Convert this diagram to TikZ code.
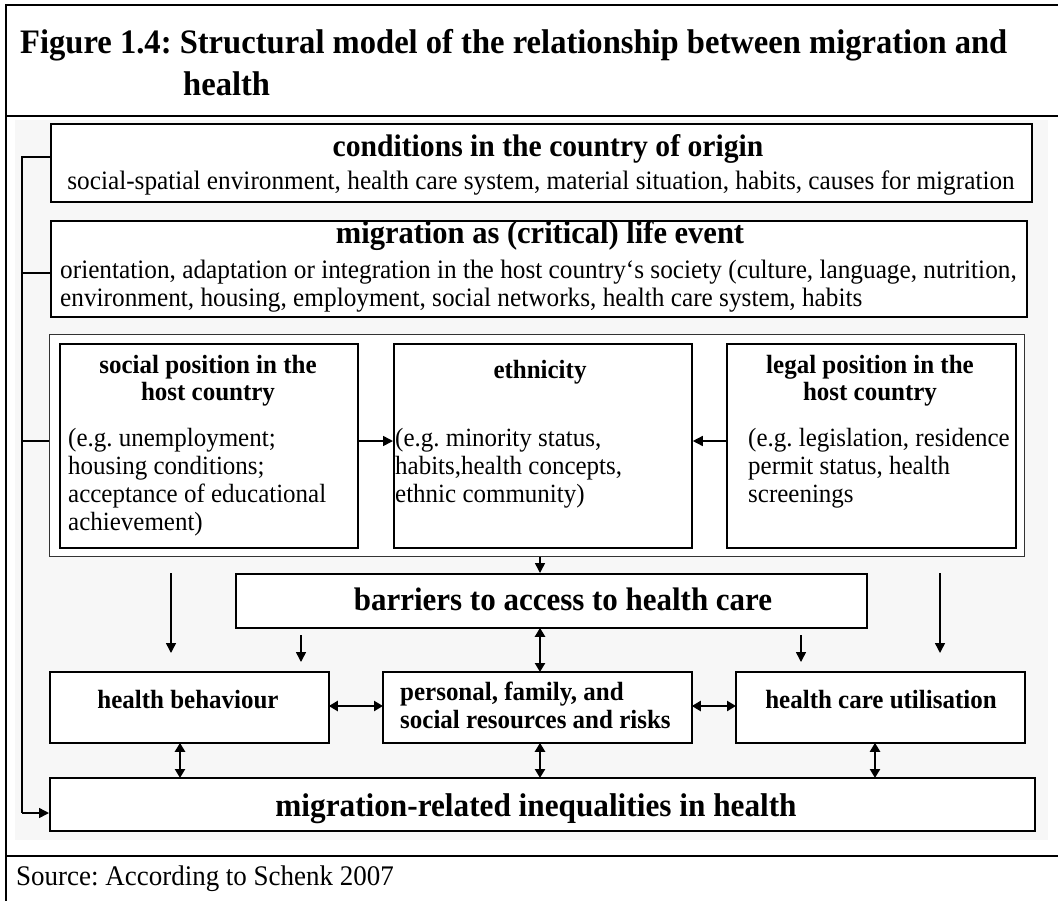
\documentclass[tikz,border=0pt]{standalone}
\usepackage{fontspec}
\setmainfont{Liberation Serif}[FakeStretch=0.95]
\usetikzlibrary{arrows.meta}
\frenchspacing
\begin{document}
\begin{tikzpicture}[x=1pt,y=-1pt,
  frame/.style={line width=2.2pt},
  box/.style={draw, line width=1.8pt, anchor=north west, inner sep=0pt},
  txt/.style={inner sep=0pt, anchor=base},
  ltxt/.style={inner sep=0pt, anchor=base west},
  head/.style={txt, font=\fontsize{32.6}{36}\selectfont\bfseries},
  sub/.style={font=\fontsize{26.6}{30}\selectfont},
  body/.style={ltxt, font=\fontsize{26.3}{29}\selectfont},
  bhead/.style={txt, font=\fontsize{26.3}{29}\selectfont\bfseries},
  arr/.style={line width=1.5pt, -{Triangle[length=10pt,width=10pt]}},
  dbl/.style={line width=2.4pt, {Triangle[length=9pt,width=10pt]}-{Triangle[length=9pt,width=10pt]}, shorten <=-1pt, shorten >=-1pt}
]
\useasboundingbox (0,0) rectangle (1058,900);
\fill[white] (0,0) rectangle (1058,900);
% faint panel behind the model
\fill[black!3] (15,120) rectangle (1048,840);

% outer frame and rules
\draw[frame] (6,5) -- (1060,5);
\draw[frame] (6,116) -- (1060,116);
\draw[frame] (6,856) -- (1060,856);
\draw[frame] (6,4) -- (6,902);

% heading
\node[ltxt, font=\fontsize{34.3}{38}\selectfont\bfseries] (t1) at (20,53)
  {Figure 1.4: Structural model of the relationship between migration and};
\node[ltxt, font=\fontsize{34.3}{38}\selectfont\bfseries] (t2) at (183,95) {health};

% top boxes
\node[box, fill=white, minimum width=981pt, minimum height=78pt] (cond) at (50,123) {};
\node[head, font=\fontsize{31.2}{35}\selectfont\bfseries] (condh) at (548,156) {conditions in the country of origin};
\node[txt, sub] (conds) at (541,189) {social-spatial environment, health care system, material situation, habits, causes for migration};

\node[box, fill=white, minimum width=976pt, minimum height=96pt] (migr) at (50,220) {};
\node[head, font=\fontsize{32.1}{35}\selectfont\bfseries] (migrh) at (540,243) {migration as (critical) life event};
\node[ltxt, sub] (migrs1) at (60,278) {orientation, adaptation or integration in the host country‘s society (culture, language, nutrition,};
\node[ltxt, sub] (migrs2) at (60,306) {environment, housing, employment, social networks, health care system, habits};

% middle group
\node[box, fill=white, draw=black!80, line width=1.2pt, minimum width=975pt, minimum height=222pt] (mid) at (49,334) {};
\node[box, minimum width=298pt, minimum height=204pt] (soc) at (59,343) {};
\node[box, minimum width=298pt, minimum height=204pt] (eth) at (393,343) {};
\node[box, minimum width=289pt, minimum height=204pt] (leg) at (726,343) {};

\node[bhead] (soch1) at (208,373) {social position in the};
\node[bhead] (soch2) at (208,400) {host country};
\node[body] (socs1) at (68,446) {(e.g. unemployment;};
\node[body] (socs2) at (68,474) {housing conditions;};
\node[body] (socs3) at (68,502) {acceptance of educational};
\node[body] (socs4) at (68,530) {achievement)};

\node[bhead] (ethh) at (540,378) {ethnicity};
\node[body] (eths1) at (395,446) {(e.g. minority status,};
\node[body] (eths2) at (395,474) {habits,health concepts,};
\node[body] (eths3) at (395,502) {ethnic community)};

\node[bhead] (legh1) at (870,373) {legal position in the};
\node[bhead] (legh2) at (870,400) {host country};
\node[body] (legs1) at (748,446) {(e.g. legislation, residence};
\node[body] (legs2) at (748,474) {permit status, health};
\node[body] (legs3) at (748,502) {screenings};

% barriers
\node[box, fill=white, minimum width=631pt, minimum height=54pt] (bar) at (235,573) {};
\node[head] (barh) at (563,610) {barriers to access to health care};

% lower row
\node[box, fill=white, minimum width=279pt, minimum height=71pt] (hb) at (49,671) {};
\node[bhead] (hbh) at (188,708) {health behaviour};
\node[box, fill=white, minimum width=309pt, minimum height=71pt] (pers) at (382,671) {};
\node[bhead, anchor=base west] (persh1) at (400,700) {personal, family, and};
\node[bhead, anchor=base west] (persh2) at (400,728) {social resources and risks};
\node[box, fill=white, minimum width=289pt, minimum height=71pt] (util) at (735,671) {};
\node[bhead] (utilh) at (881,708) {health care utilisation};

\node[box, fill=white, minimum width=985pt, minimum height=53pt] (ineq) at (49,777) {};
\node[head, font=\fontsize{32.9}{36}\selectfont\bfseries] (ineqh) at (536,816) {migration-related inequalities in health};

% source line
\node[ltxt, font=\fontsize{28.4}{32}\selectfont] (src) at (16,885) {Source: According to Schenk 2007};

% left spine feeding the outcome box
\coordinate (sp1) at (22,157);
\coordinate (sp2) at (22,273);
\coordinate (sp3) at (22,441);
\coordinate (sp4) at (22,813);
\draw[line width=1.5pt] (cond.west |- sp1) -- (sp1) -- (sp4);
\draw[line width=1.5pt] (migr.west |- sp2) -- (sp2);
\draw[line width=1.5pt] (mid.west |- sp3) -- (sp3);
\draw[arr] (sp4) -- (ineq.west |- sp4);

% arrows inside the middle group
\coordinate (hz) at (0,441);
\draw[arr] (soc.east |- hz) -- (eth.west |- hz);
\draw[arr] (leg.west |- hz) -- (eth.east |- hz);

% down arrows
\coordinate (vx) at (540,0);
\draw[arr] (mid.south -| vx) -- (bar.north -| vx);
\coordinate (a1) at (171,573); \coordinate (a1e) at (171,653);
\draw[arr] (a1) -- (a1e);
\coordinate (a2) at (301,635); \coordinate (a2e) at (301,662);
\draw[arr] (a2) -- (a2e);
\coordinate (a3) at (801,635); \coordinate (a3e) at (801,662);
\draw[arr] (a3) -- (a3e);
\coordinate (a4) at (940,573); \coordinate (a4e) at (940,653);
\draw[arr] (a4) -- (a4e);

% two-way links
\coordinate (hy) at (0,706);
\draw[dbl] (bar.south -| vx) -- (pers.north -| vx);
\draw[dbl] (hb.east |- hy) -- (pers.west |- hy);
\draw[dbl] (pers.east |- hy) -- (util.west |- hy);
\coordinate (x1) at (180,0);
\coordinate (x3) at (875,0);
\draw[dbl] (hb.south -| x1) -- (ineq.north -| x1);
\draw[dbl] (pers.south -| vx) -- (ineq.north -| vx);
\draw[dbl] (util.south -| x3) -- (ineq.north -| x3);
\end{tikzpicture}
\end{document}
